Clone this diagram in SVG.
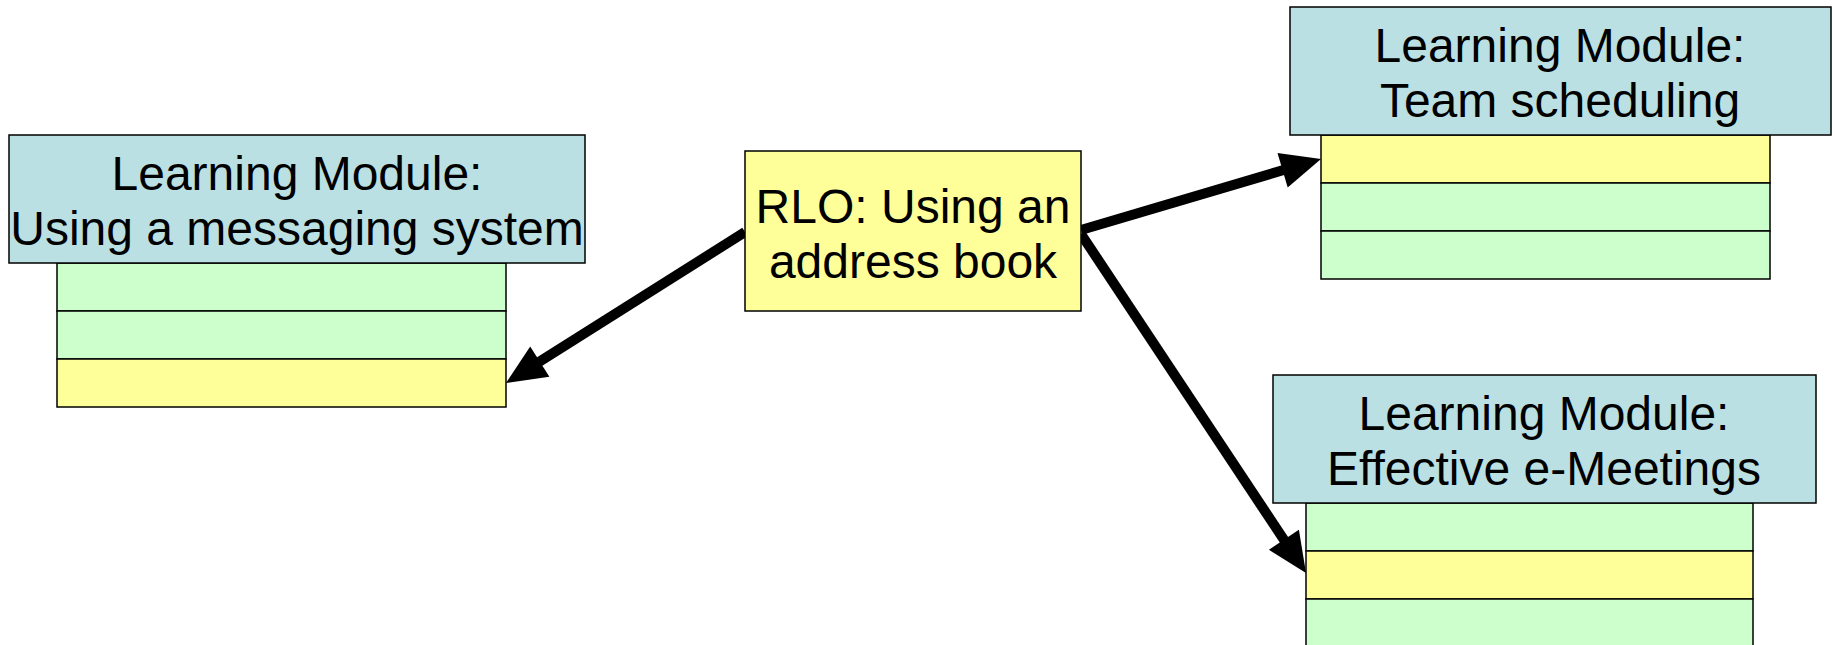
<svg xmlns="http://www.w3.org/2000/svg" width="1835" height="645" viewBox="0 0 1835 645">
<style>
.hdr{fill:#BBE0E3;stroke:#000;stroke-width:1.5}
.g{fill:#CCFFCC;stroke:#000;stroke-width:1.5}
.y{fill:#FFFF99;stroke:#000;stroke-width:1.5}
.t{font-family:"Liberation Sans",Arial,sans-serif;font-size:48px;fill:#000;text-anchor:middle}
.ln{stroke:#000;stroke-width:10;fill:none}
.ah{fill:#000}
</style>
<rect width="1835" height="645" fill="#fff"/>
<g id="connectors">
<line class="ln" x1="745" y1="232" x2="531" y2="367"/>
<polygon class="ah" points="506,383 530.2,346.4 549.4,376.8"/>
<line class="ln" x1="1081" y1="230" x2="1292" y2="167.5"/>
<polygon class="ah" points="1321,159 1277.5,153 1287.7,187.6"/>
<line class="ln" x1="1081" y1="234" x2="1289.4" y2="548"/>
<polygon class="ah" points="1306,573 1298.9,529.8 1268.9,549.7"/>
</g>
<g id="module-messaging">
<rect class="g" x="57" y="263" width="449" height="48"/>
<rect class="g" x="57" y="311" width="449" height="48"/>
<rect class="y" x="57" y="359" width="449" height="48"/>
<rect class="hdr" x="9" y="135" width="576" height="128"/>
<text class="t" x="297" y="190">Learning Module:</text>
<text class="t" x="297" y="245">Using a messaging system</text>
</g>
<g id="rlo">
<rect class="y" x="745" y="151" width="336" height="160"/>
<text class="t" x="913" y="223">RLO: Using an</text>
<text class="t" x="913" y="278">address book</text>
</g>
<g id="module-scheduling">
<rect class="y" x="1321" y="135" width="449" height="48"/>
<rect class="g" x="1321" y="183" width="449" height="48"/>
<rect class="g" x="1321" y="231" width="449" height="48"/>
<rect class="hdr" x="1290" y="7" width="541" height="128"/>
<text class="t" x="1560" y="62">Learning Module:</text>
<text class="t" x="1560" y="117">Team scheduling</text>
</g>
<g id="module-meetings">
<rect class="g" x="1306" y="503" width="447" height="48"/>
<rect class="y" x="1306" y="551" width="447" height="48"/>
<rect class="g" x="1306" y="599" width="447" height="60"/>
<rect class="hdr" x="1273" y="375" width="543" height="128"/>
<text class="t" x="1544" y="430">Learning Module:</text>
<text class="t" x="1544" y="485">Effective e-Meetings</text>
</g>
</svg>
